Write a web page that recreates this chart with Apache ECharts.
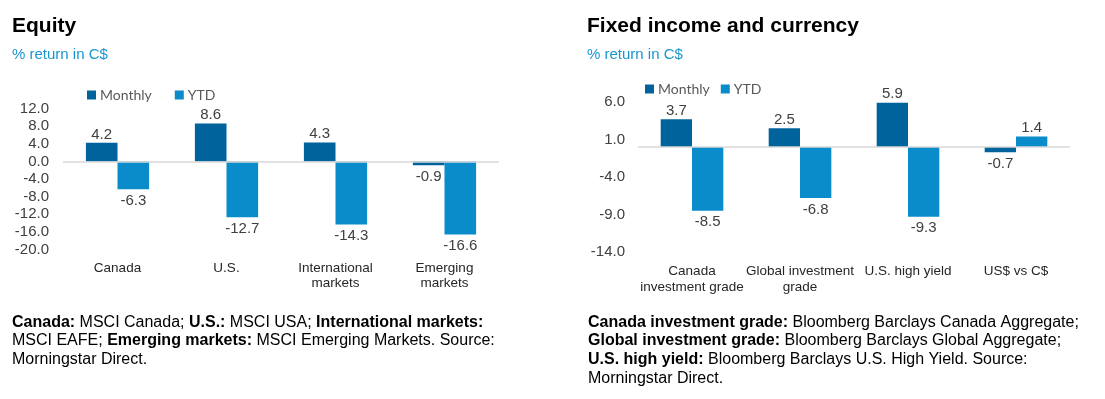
<!DOCTYPE html>
<html>
<head>
<meta charset="utf-8">
<script src="https://cdn.jsdelivr.net/npm/echarts@6/dist/echarts.min.js"></script>
<style>
  html, body { margin: 0; padding: 0; background: #fff; }
  #chart { width: 1105px; height: 399px; }
</style>
</head>
<body>
<div id="chart"></div>
<script>
  // equity panel
  var equityCategories = ['Canada', 'U.S.', 'International\nmarkets', 'Emerging\nmarkets'];
  var equityMonthly = [4.2, 8.6, 4.3, -0.9];
  var equityYtd = [-6.3, -12.7, -14.3, -16.6];
  var equityTicks = [12, 8, 4, 0, -4, -8, -12, -16, -20];

  // fixed income and currency panel
  var fixedCategories = ['Canada\ninvestment grade', 'Global investment\ngrade', 'U.S. high yield', 'US$ vs C$'];
  var fixedMonthly = [3.7, 2.5, 5.9, -0.7];
  var fixedYtd = [-8.5, -6.8, -9.3, 1.4];
  var fixedTicks = [6, 1, -4, -9, -14];

  var FONT = '"Liberation Sans", Arial, sans-serif';
  var DARK = '#00639c';
  var LIGHT = '#0a8ccb';

  function barData(values) {
    return values.map(function (v) {
      return {
        value: v,
        label: v >= 0 ? {position: 'top', distance: 1} : {position: 'bottom', distance: 4}
      };
    });
  }

  function barSeries(name, values, color, idx) {
    return {
      name: name,
      type: 'bar',
      xAxisIndex: idx,
      yAxisIndex: idx,
      data: barData(values),
      barGap: 0,
      barCategoryGap: '42%',
      itemStyle: {color: color},
      label: {
        show: true,
        color: '#404040',
        fontSize: 15,
        fontFamily: FONT,
        formatter: function (p) { return p.value.toFixed(1); }
      }
    };
  }

  function zeroLine() {
    return {
      silent: true,
      symbol: 'none',
      label: {show: false},
      lineStyle: {color: '#d9d9d9', width: 1.5, type: 'solid'},
      data: [{yAxis: 0}]
    };
  }

  function xAxisFor(cats, idx, margin, lh) {
    return {
      type: 'category',
      gridIndex: idx,
      data: cats,
      axisLine: {show: false, onZero: false},
      axisTick: {show: false},
      axisLabel: {
        interval: 0,
        margin: margin,
        color: '#262626',
        fontSize: 13.5,
        lineHeight: lh,
        fontFamily: FONT
      }
    };
  }

  function yAxisFor(ticks, idx, margin) {
    return {
      type: 'value',
      gridIndex: idx,
      min: Math.min.apply(null, ticks),
      max: Math.max.apply(null, ticks),
      splitLine: {show: false},
      axisLine: {show: false},
      axisTick: {show: false},
      axisLabel: {
        customValues: ticks,
        margin: margin,
        color: '#404040',
        fontSize: 15,
        fontFamily: FONT,
        formatter: function (v) { return v.toFixed(1); }
      }
    };
  }

  function legendAt(left, top, gap) {
    return {
      left: left,
      top: top,
      orient: 'horizontal',
      icon: 'rect',
      itemWidth: 9,
      itemHeight: 9,
      itemGap: gap,
      padding: 0,
      data: ['Monthly', 'YTD'],
      textStyle: {color: '#595959', fontSize: 14, fontFamily: 'Lato, "Open Sans", sans-serif', padding: [0, 0, 0, -1]}
    };
  }

  function textEl(left, top, text, extra) {
    var style = {text: text, fill: '#000', font: '16px ' + FONT};
    for (var k in extra) { style[k] = extra[k]; }
    return {type: 'text', left: left, top: top, style: style};
  }

  var noteRich = {
    b: {fontWeight: 'bold', fontSize: 16, fontFamily: FONT, lineHeight: 18.7, fill: '#000'}
  };

  var monthlyLeft = barSeries('Monthly', equityMonthly, DARK, 0);
  monthlyLeft.markLine = zeroLine();
  var monthlyRight = barSeries('Monthly', fixedMonthly, DARK, 1);
  monthlyRight.markLine = zeroLine();

  var chart = echarts.init(document.getElementById('chart'));
  chart.setOption({
    animation: false,
    backgroundColor: '#fff',
    grid: [
      {left: 63, right: 606, top: 108.5, bottom: 149.5, outerBoundsMode: 'none'},
      {left: 638, right: 35, top: 102, bottom: 147, outerBoundsMode: 'none'}
    ],
    legend: [legendAt(87, 88, 23), legendAt(645, 82, 11)],
    xAxis: [xAxisFor(equityCategories, 0, 11, 15), xAxisFor(fixedCategories, 1, 11, 16)],
    yAxis: [yAxisFor(equityTicks, 0, 14), yAxisFor(fixedTicks, 1, 13)],
    series: [
      monthlyLeft,
      barSeries('YTD', equityYtd, LIGHT, 0),
      monthlyRight,
      barSeries('YTD', fixedYtd, LIGHT, 1)
    ],
    graphic: [
      textEl(12, 16, 'Equity', {font: 'bold 21px ' + FONT}),
      textEl(12, 47, '% return in C$', {font: '15px ' + FONT, fill: '#1996cf'}),
      textEl(587, 16, 'Fixed income and currency', {font: 'bold 21px ' + FONT}),
      textEl(587, 47, '% return in C$', {font: '15px ' + FONT, fill: '#1996cf'}),
      textEl(12, 313,
        '{b|Canada:} MSCI Canada; {b|U.S.:} MSCI USA; {b|International markets:}\n' +
        'MSCI EAFE; {b|Emerging markets:} MSCI Emerging Markets. Source:\n' +
        'Morningstar Direct.',
        {lineHeight: 18.7, rich: noteRich}),
      textEl(588, 313,
        '{b|Canada investment grade:} Bloomberg Barclays Canada Aggregate;\n' +
        '{b|Global investment grade:} Bloomberg Barclays Global Aggregate;\n' +
        '{b|U.S. high yield:} Bloomberg Barclays U.S. High Yield. Source:\n' +
        'Morningstar Direct.',
        {lineHeight: 18.7, rich: noteRich})
    ]
  });
</script>
</body>
</html>
